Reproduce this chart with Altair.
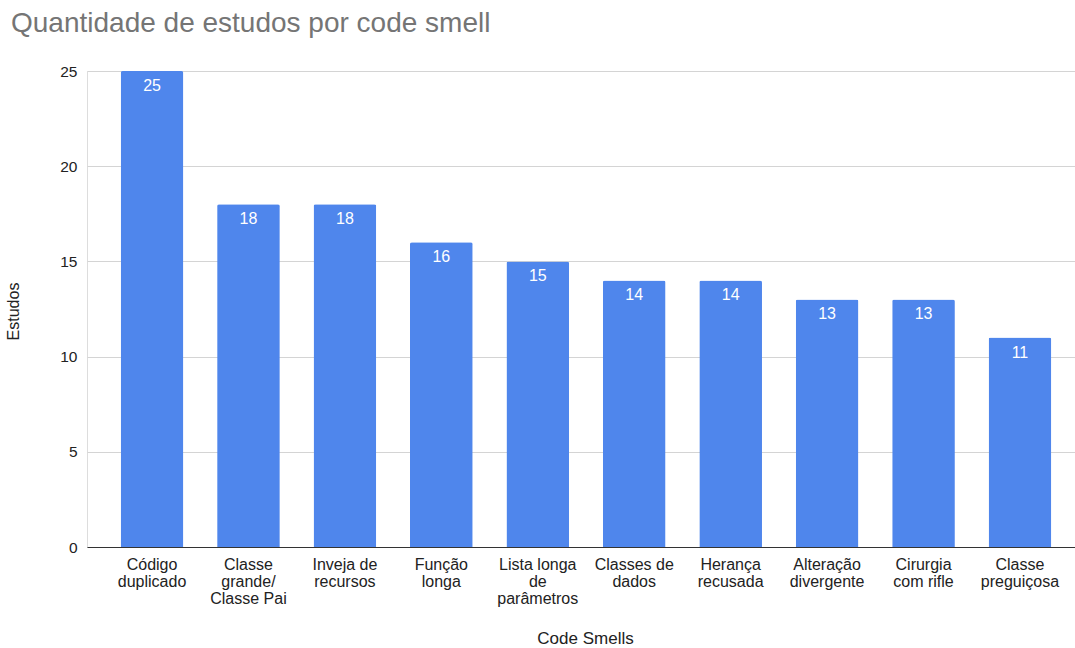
import altair as alt
import pandas as pd

categories = ["Código duplicado", "Classe grande/ Classe Pai", "Inveja de recursos",
              "Função longa", "Lista longa de parâmetros", "Classes de dados",
              "Herança recusada", "Alteração divergente", "Cirurgia com rifle",
              "Classe preguiçosa"]
labels = ["Código\nduplicado", "Classe\ngrande/\nClasse Pai", "Inveja de\nrecursos",
          "Função\nlonga", "Lista longa\nde\nparâmetros", "Classes de\ndados",
          "Herança\nrecusada", "Alteração\ndivergente", "Cirurgia\ncom rifle",
          "Classe\npreguiçosa"]
values = [25, 18, 18, 16, 15, 14, 14, 13, 13, 11]

df = pd.DataFrame({"cat": categories, "label": labels, "value": values})

FONT = "Liberation Sans"

x = alt.X("label:N", sort=labels, title="Code Smells",
          scale=alt.Scale(paddingInner=0.35, paddingOuter=0.2975, align=0.587),
          axis=alt.Axis(labelAngle=0, labelExpr="split(datum.label, '\\n')",
                        labelFontSize=16, labelColor="#222222", labelFont=FONT,
                        labelLineHeight=17, labelPadding=9, ticks=False,
                        domainColor="#333333", titleFontSize=17, titleFont=FONT,
                        titleFontWeight="normal", titleColor="#222222",
                        titleX=498, titleY=83, grid=False))
y = alt.Y("value:Q", title="Estudos",
          scale=alt.Scale(domain=[0, 25], nice=False),
          axis=alt.Axis(values=[0, 5, 10, 15, 20, 25], labelFontSize=15.5,
                        labelColor="#222222", labelFont=FONT, labelPadding=10,
                        ticks=False, domain=False, gridColor="#d4d4d4",
                        titleFontSize=16, titleFont=FONT, titleFontWeight="normal",
                        titleColor="#222222", titleX=-66, titleY=240))

bars = alt.Chart(df).mark_bar(color="#4F86EC", cornerRadiusTopLeft=2,
                              cornerRadiusTopRight=2).encode(x=x, y=y)
text = alt.Chart(df).mark_text(color="white", fontSize=16, font=FONT,
                               baseline="top", dy=7).encode(
    x=alt.X("label:N", sort=labels), y="value:Q", text="value:Q")

chart = (bars + text).properties(
    width=988, height=476,
    title=alt.TitleParams("Quantidade de estudos por code smell", anchor="start",
                          frame="group", fontSize=28, font=FONT,
                          fontWeight="normal", color="#757575", dx=-76, offset=26),
    autosize=alt.AutoSizeParams(type="none"),
    padding={"left": 87, "top": 71, "right": 0, "bottom": 101},
).configure_view(stroke=None).configure(background="white")

chart.save("out.html", embed_options={"renderer": "svg", "actions": False})
